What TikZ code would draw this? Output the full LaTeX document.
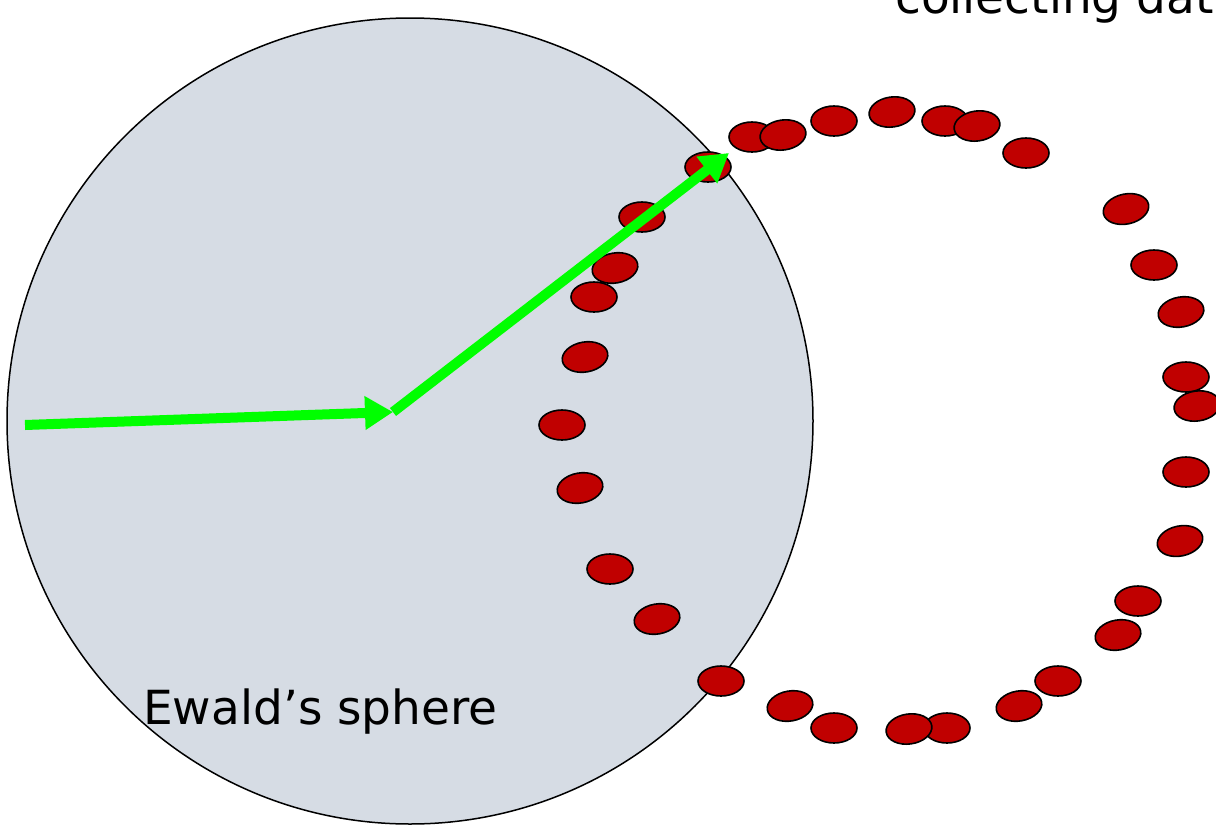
\documentclass[tikz,border=0pt]{standalone}
\usepackage{fontspec}
\setmainfont{DejaVu Sans}
\usetikzlibrary{shapes.geometric,arrows.meta}
\definecolor{spotred}{HTML}{C00000}
\definecolor{arrowgreen}{HTML}{00FF00}
\definecolor{spherefill}{HTML}{D6DCE4}
\tikzset{
  spot/.style={ellipse, draw=black, line width=1.6pt, fill=spotred, minimum width=46pt, minimum height=30pt, inner sep=0pt},
  sphere/.style={circle, draw=black, line width=1.5pt, fill=spherefill, minimum size=806pt, inner sep=0pt},
  garrow/.style={draw=arrowgreen, line width=10pt, -{Triangle[length=28pt,width=32pt]}},
  label/.style={inner sep=0pt, anchor=base west, font=\fontsize{47}{56}\selectfont}
}
\begin{document}
\begin{tikzpicture}[x=1pt,y=-1pt]
\useasboundingbox (0,0) rectangle (1216,825);
\node[sphere] (sph) at (410,421) {};
\node[label] (collect) at (895,13) {collecting dat};
\node[label] (ewald) at (143,724) {Ewald’s sphere};
% top arc
\node[spot] (p1) at (752,137) {};
\node[spot, rotate=8] (p2) at (783,135) {};
\node[spot] (p3) at (834,121) {};
\node[spot, rotate=8] (p4) at (892,112) {};
\node[spot] (p5) at (945,121) {};
\node[spot, rotate=8] (p6) at (977,126) {};
\node[spot] (p7) at (1026,153) {};
\node[spot] (p0) at (708,167) {};
% left column
\node[spot] (q1) at (642,217) {};
\node[spot] (q3) at (594,297) {};
\node[spot, rotate=10] (q2) at (615,268) {};
\node[spot, rotate=10] (q4) at (585,357) {};
\node[spot] (q5) at (562,425) {};
\node[spot, rotate=10] (q6) at (580,488) {};
\node[spot] (q7) at (610,569) {};
\node[spot, rotate=10] (q8) at (657,619) {};
\node[spot] (q9) at (721,681) {};
% bottom arc
\node[spot, rotate=10] (b1) at (790,706) {};
\node[spot] (b2) at (834,728) {};
\node[spot] (b4) at (947,728) {};
\node[spot, rotate=8] (b3) at (909,729) {};
\node[spot, rotate=10] (b5) at (1019,706) {};
\node[spot] (b6) at (1058,681) {};
% right side
\node[spot, rotate=12] (r1) at (1126,209) {};
\node[spot] (r2) at (1154,265) {};
\node[spot, rotate=10] (r3) at (1181,312) {};
\node[spot] (r4) at (1186,377) {};
\node[spot, rotate=8] (r5) at (1197,406) {};
\node[spot] (r6) at (1186,472) {};
\node[spot, rotate=12] (r7) at (1180,541) {};
\node[spot] (r8) at (1138,601) {};
\node[spot, rotate=10] (r9) at (1118,635) {};
% arrows
\coordinate (a0) at (25,425);
\coordinate (a1) at (393,412);
\coordinate (a2) at (729,153);
\draw[garrow] (a0) -- (a1);
\draw[garrow] (a1) -- (a2);
\end{tikzpicture}
\end{document}
